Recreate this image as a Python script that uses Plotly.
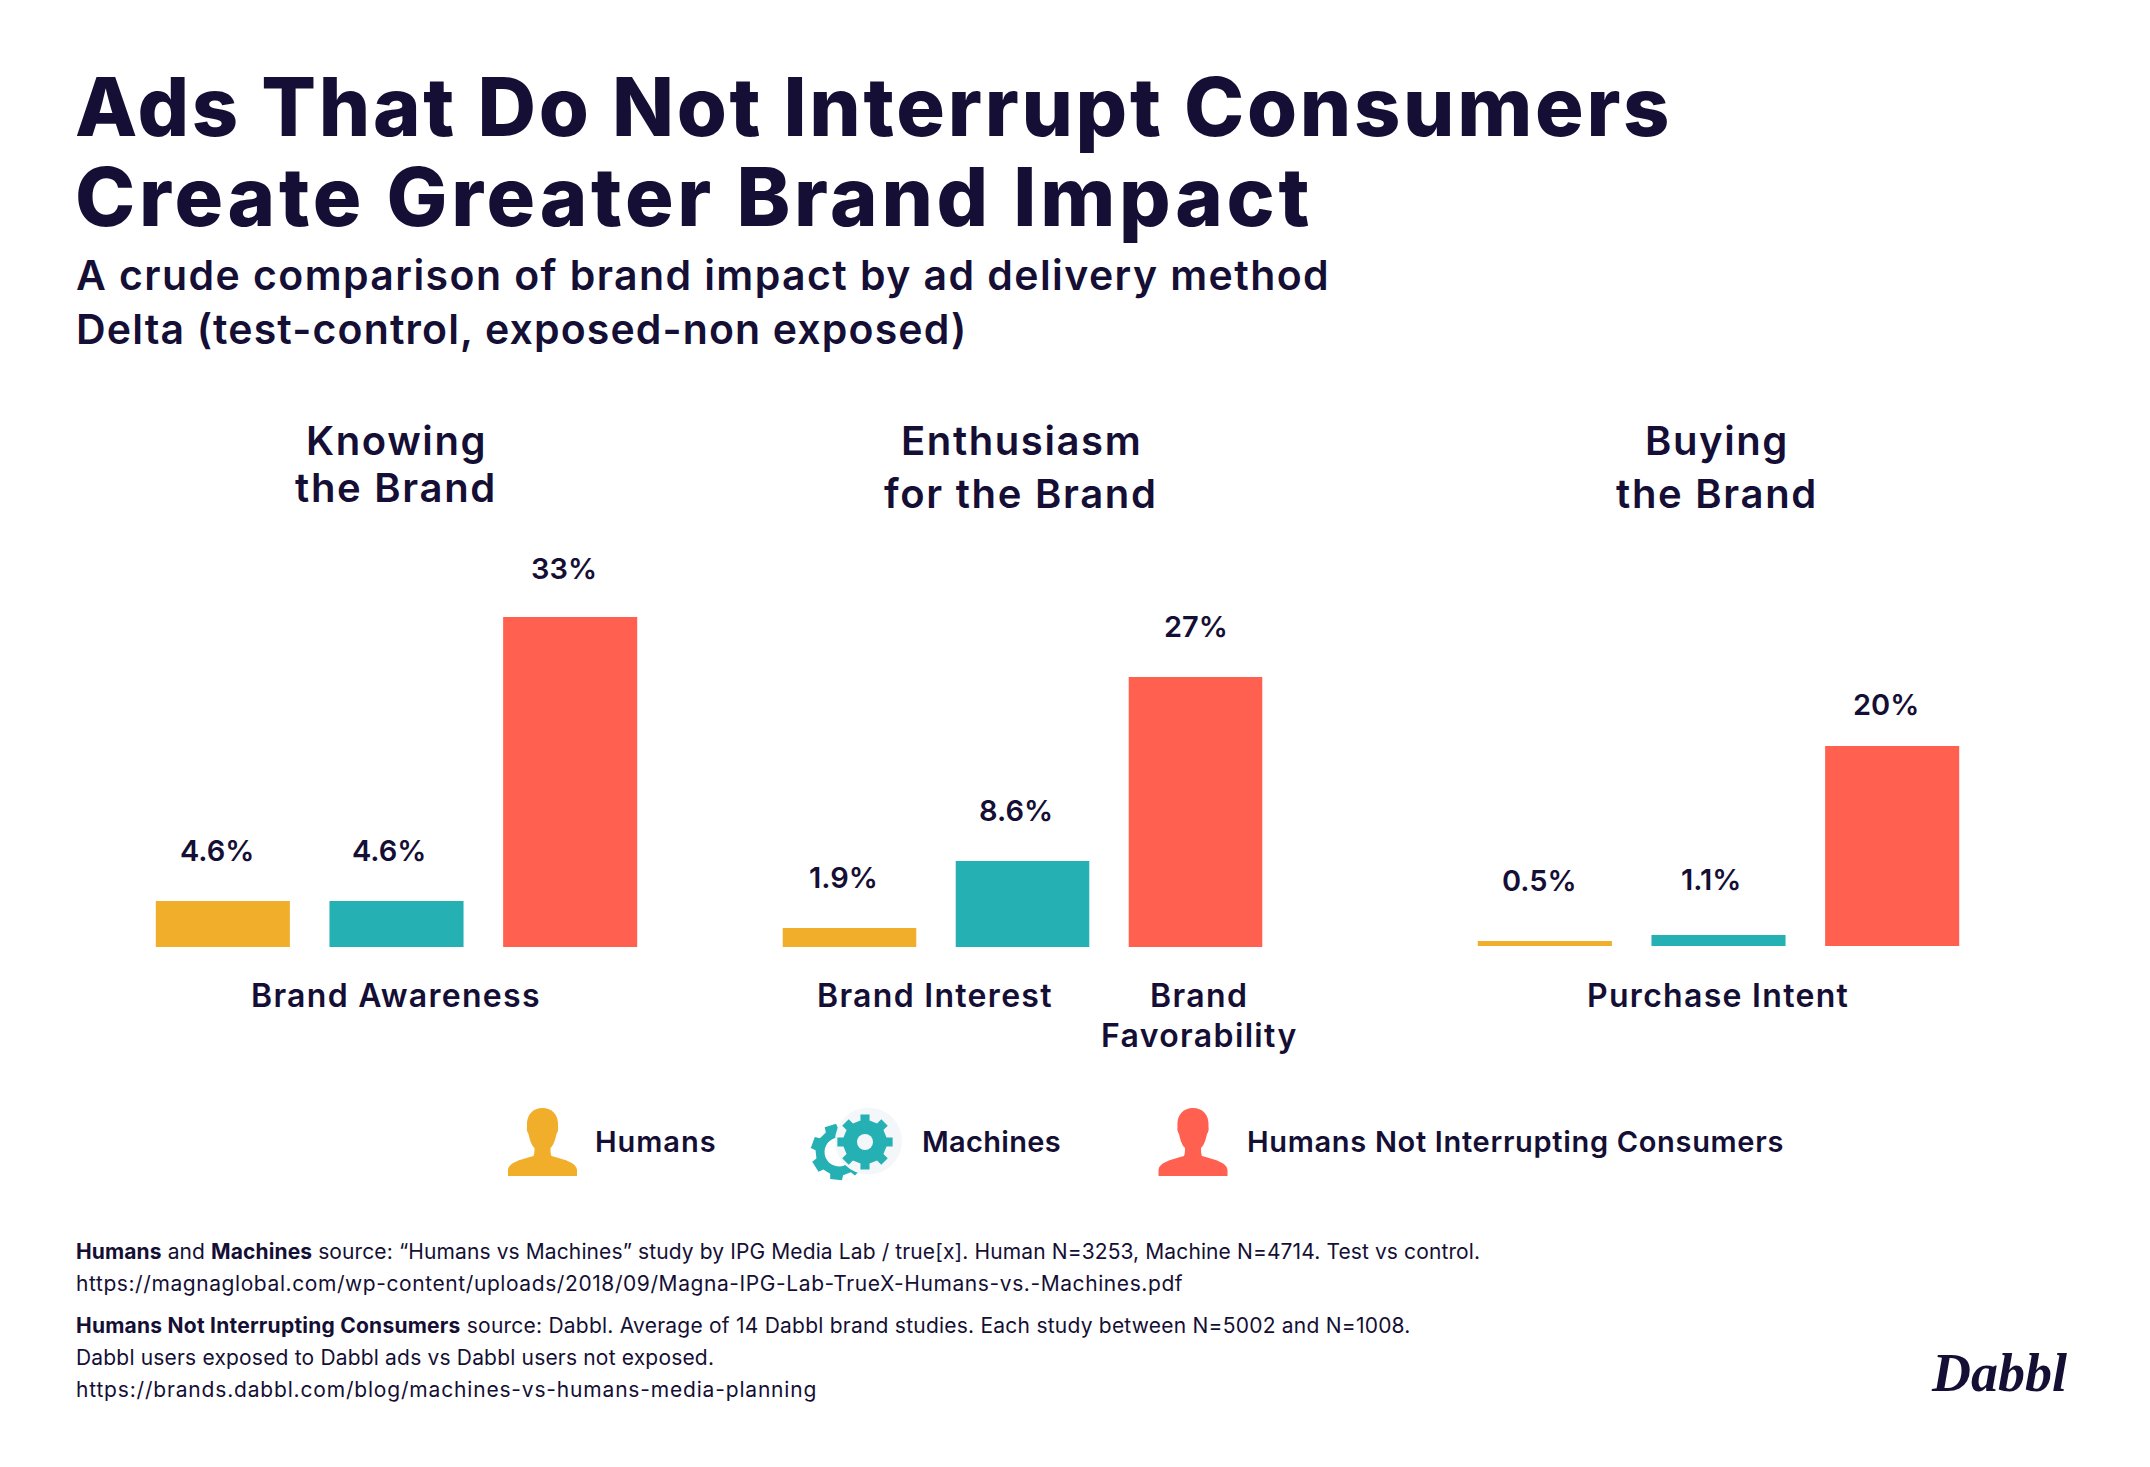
import math
import plotly.graph_objects as go

W, H = 2150, 1467
INK = "#150F35"
FONT = "Inter"
ORANGE, TEAL, RED = "#F1AE2B", "#25B0B3", "#FF604F"
PALE = "#F4F7F9"

series = ["Humans", "Machines", "Humans Not Interrupting Consumers"]
colors = [ORANGE, TEAL, RED]
knowing = [4.6, 4.6, 33]
enthusiasm = [1.9, 8.6, 27]
buying = [0.5, 1.1, 20]
labels_knowing = ["4.6%", "4.6%", "33%"]
labels_enthusiasm = ["1.9%", "8.6%", "27%"]
labels_buying = ["0.5%", "1.1%", "20%"]
heading_knowing = ["Knowing", "the Brand"]
heading_enthusiasm = ["Enthusiasm", "for the Brand"]
heading_buying = ["Buying", "the Brand"]

def px(x): return x / W
def py(y): return 1 - y / H

fig = go.Figure()
panels = [
    ("", knowing, labels_knowing, (136, 657), 947, [-6, -8, -6], [51, 51, 49]),
    ("2", enthusiasm, labels_enthusiasm, (763, 1282), 947, [-6, -7, 0], [51, 51, 51]),
    ("3", buying, labels_buying, (1458, 1979), 946, [-5, -8, -6], [61, 56, 42]),
]
PER_UNIT = 10.0
for suffix, vals, labs, dom, base, xsh, ysh in panels:
    fig.add_trace(go.Bar(x=series, y=vals, xaxis="x" + suffix, yaxis="y" + suffix,
                         marker=dict(color=colors, line_width=0), showlegend=False, hoverinfo="x+y"))
    fig.layout["xaxis" + suffix] = dict(domain=[px(dom[0]), px(dom[1])], anchor="y" + suffix,
                                        visible=False, type="category", categoryorder="array",
                                        categoryarray=series)
    fig.layout["yaxis" + suffix] = dict(domain=[py(base), py(base - 400)], anchor="x" + suffix,
                                        visible=False, range=[0, 400 / PER_UNIT])
    for cat, v, lab, sx, sy in zip(series, vals, labs, xsh, ysh):
        fig.add_annotation(x=cat, y=v, xref="x" + suffix, yref="y" + suffix, text=lab,
                           showarrow=False, yshift=sy, xshift=sx,
                           font=dict(family=FONT, size=29, color=INK, weight=600))

fig.update_layout(bargap=0.228)

def text(x, y, s, size, weight=500, anchor="left", ls=0, family=FONT, style="normal"):
    if ls:
        s = f'<span style="letter-spacing:{ls}px">{s}</span>'
    fig.add_annotation(x=px(x), y=py(y), xref="paper", yref="paper", text=s, showarrow=False,
                       xanchor=anchor, yanchor="middle", align=anchor,
                       font=dict(family=family, size=size, color=INK, weight=weight, style=style))

# title block
text(72.5, 107, "Ads That Do Not Interrupt Consumers", 81, 800, ls=2.7)
text(72.5, 197, "Create Greater Brand Impact", 81, 800, ls=3.7)
text(73.5, 275, "A crude comparison of brand impact by ad delivery method", 41, 600, ls=1.42)
text(73.5, 329, "Delta (test-control, exposed-non exposed)", 41, 600, ls=1.15)

# panel headings
def head(cx, y1, y2, lines):
    text(cx, y1, lines[0], 40, 600, "center", ls=1.6)
    text(cx, y2, lines[1], 40, 600, "center", ls=1.7)
head(396, 440, 487, heading_knowing)
head(1021, 440, 493, heading_enthusiasm)
head(1717, 440, 493, heading_buying)

# category labels
text(396, 995, "Brand Awareness", 32, 600, "center", ls=1.3)
text(935, 995, "Brand Interest", 32, 600, "center", ls=1.3)
text(1199, 995, "Brand", 32, 600, "center", ls=1.4)
text(1199, 1035, "Favorability", 32, 600, "center", ls=1.35)
text(1718, 995, "Purchase Intent", 32, 600, "center", ls=1.3)

# legend text
text(593, 1141, series[0], 29, 600, ls=0.95)
text(919.5, 1141, series[1], 29, 600, ls=0.3)
text(1245, 1141, series[2], 29, 600, ls=0.68)

# footnotes
foot = 21
text(73.5, 1251, "<b>Humans</b> and <b>Machines</b> source: “Humans vs Machines” study by IPG Media Lab / true[x]. Human N=3253, Machine N=4714. Test vs control.", foot, 400, ls=0.11)
text(73.5, 1283, "https://magnaglobal.com/wp-content/uploads/2018/09/Magna-IPG-Lab-TrueX-Humans-vs.-Machines.pdf", foot, 400, ls=0.58)
text(73.5, 1325, "<b>Humans Not Interrupting Consumers</b> source: Dabbl. Average of 14 Dabbl brand studies. Each study between N=5002 and N=1008.", foot, 400, ls=0.23)
text(73.5, 1357, "Dabbl users exposed to Dabbl ads vs Dabbl users not exposed.", foot, 400, ls=0.18)
text(73.5, 1389, "https://brands.dabbl.com/blog/machines-vs-humans-media-planning", foot, 400, ls=0.82)
text(2069, 1373, "Dabbl", 54, 700, "right", family="Liberation Serif", style="italic")

# ---- legend icons (decorative shapes, pixel geometry converted to paper space)
def path_from(cmds):
    out = []
    for c in cmds:
        if c == "Z":
            out.append("Z")
        else:
            op, pts = c
            out.append(op + " ".join(f"{px(x):.5f},{py(y):.5f}" for x, y in pts))
    return " ".join(out)

def person(cx, top, color):
    s = lambda dx, dy: (cx + dx, top + dy)
    cmds = [
        ("M", [s(-34.5, 68)]),
        ("L", [s(-34.5, 62)]),
        ("C", [s(-34, 55), s(-24, 52), s(-9, 48)]),
        ("C", [s(-8, 46), s(-8, 43), s(-8, 40)]),
        ("C", [s(-12, 36), s(-13, 30), s(-14, 26)]),
        ("C", [s(-15.5, 24), s(-16, 21), s(-15.5, 19)]),
        ("C", [s(-16.5, 6), s(-9, 0), s(0, 0)]),
        ("C", [s(9, 0), s(16.5, 6), s(15.5, 19)]),
        ("C", [s(16, 21), s(15.5, 24), s(14, 26)]),
        ("C", [s(13, 30), s(12, 36), s(8, 40)]),
        ("C", [s(8, 43), s(8, 46), s(9, 48)]),
        ("C", [s(24, 52), s(34, 55), s(34.5, 62)]),
        ("L", [s(34.5, 68)]),
        "Z",
    ]
    fig.add_shape(type="path", path=path_from(cmds), xref="paper", yref="paper",
                  fillcolor=color, line_width=0)

def gear_points(cx, cy, r_out, r_in, teeth, a0, a1, tooth_frac=0.5):
    pts = []
    step = 2 * math.pi / teeth
    n = int(round((a1 - a0) / step))
    for i in range(n):
        a = a0 + i * step
        w = step * tooth_frac / 2
        flare = w * 1.25
        for ang, r in [(a - flare, r_in), (a - w, r_out), (a + w, r_out), (a + flare, r_in)]:
            pts.append((cx + r * math.cos(ang), cy + r * math.sin(ang)))
    return pts

def circle(cx, cy, r, color):
    fig.add_shape(type="circle", xref="paper", yref="paper", x0=px(cx - r), x1=px(cx + r),
                  y0=py(cy + r), y1=py(cy - r), fillcolor=color, line_width=0)

person(542.5, 1108, ORANGE)
person(1193, 1108, RED)

# small partial gear, open on its right side
gcx, gcy = 839, 1152
angles = [math.radians(a) for a in (-108, -160, -212, -264, -316)]
outline = []
for a in angles:
    w = math.radians(12)
    f = math.radians(16)
    for ang, r in [(a + f, 23.5), (a + w, 28.5), (a - w, 28.5), (a - f, 23.5)]:
        outline.append((gcx + r * math.cos(ang), gcy + r * math.sin(ang)))
inner = [(gcx + 14.5 * math.cos(math.radians(d)), gcy + 14.5 * math.sin(math.radians(d)))
         for d in range(50, 291, 12)]
small = [("M", [outline[0]])] + [("L", [p]) for p in outline[1:]] + [("L", [p]) for p in inner] + ["Z"]
fig.add_shape(type="path", path=path_from(small), xref="paper", yref="paper", fillcolor=TEAL, line_width=0)

circle(868.5, 1141, 33.5, PALE)
big = gear_points(865, 1142, 28, 22, 8, -math.pi / 2, 1.5 * math.pi, 0.42)
fig.add_shape(type="path",
              path=path_from([("M", [big[0]])] + [("L", [p]) for p in big[1:]] + ["Z"]),
              xref="paper", yref="paper", fillcolor=TEAL, line_width=0)
circle(865, 1142, 8, PALE)

fig.update_layout(width=W, height=H, margin=dict(l=0, r=0, t=0, b=0), autosize=False,
                  paper_bgcolor="white", plot_bgcolor="white")
fig.write_html("out.html", config={"displayModeBar": False},
               post_script="document.body.style.margin='0';")
